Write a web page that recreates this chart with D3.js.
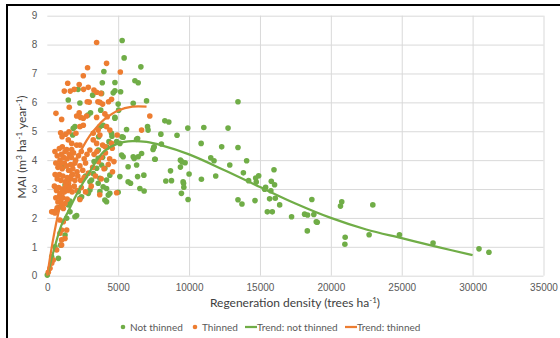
<!DOCTYPE html>
<html>
<head>
<meta charset="utf-8">
<script src="https://cdn.jsdelivr.net/npm/d3@7"></script>
<style>
  body { margin: 0; background: #fff; }
  svg { display: block; font-family: Lato, "Open Sans", sans-serif; }
  .grid line { stroke: #d9d9d9; stroke-width: 1; }
  .tick-label { fill: #595959; font-size: 10px; }
</style>
</head>
<body>
<svg id="chart" width="560" height="338"></svg>
<script>
// values: [trees per ha, MAI]
var notThinned = [
  [0,0.02],[310,0.66],[780,0.6],[540,1.0],[940,1.06],[1250,1.41],[1370,1.99],[1950,2.04],[2070,2.08],[1600,2.21],
  [780,2.35],[1480,2.45],[1600,2.58],[2300,2.68],[2420,2.73],[1130,3.77],[1250,3.14],[2180,2.91],[2890,2.85],
  [1830,5.1],[1790,4.87],[1480,6.08],[2170,6.45],[1950,5.16],[2300,5.98],[3200,6.25],[3830,6.31],[3990,7.07],
  [3880,6.68],[3770,5.73],[3050,5.64],[2870,5.56],[3620,4.81],[4350,4.64],[4560,4.83],[3710,5.16],[3940,5.21],
  [4770,5.45],[4530,4.93],[3590,4.06],[3830,3.83],[4060,3.72],[3480,3.72],[3240,3.54],[4410,3.48],[3710,3.37],
  [4180,3.31],[3120,3.31],[3010,3.25],[3940,3.08],[4180,3.02],[3010,2.97],[4410,2.85],[4300,2.79],[4060,2.62],
  [4180,2.56],[3710,2.91],[3590,3.2],[3600,4.35],[3900,4.1],[4200,4.45],[3300,3.95],[2700,3.45],
  [5280,8.14],[5420,7.54],[6600,7.23],[6180,6.75],[6410,6.68],[4770,6.69],[4650,6.33],[4770,6.4],[5170,6.37],
  [7000,6.05],[6060,5.97],[5000,5.94],[5030,5.73],[4770,5.48],[5590,5.06],[7070,5.16],[7110,5.04],[5260,4.81],
  [5350,4.79],[6300,4.72],[7540,4.46],[4890,4.64],[5120,4.58],[6370,4.75],[5240,4.18],[5350,4.12],[6060,4.12],
  [5700,3.77],[6300,3.83],[5700,3.25],[5870,3.2],[5120,3.43],[5000,2.89],[6130,4.06],[6410,4.12],[6650,4.23],
  [7580,4.03],[6370,3.43],[6810,3.48],[6530,3.02],[6830,2.93],
  [8760,3.29],[8360,3.28],[9460,2.85],[9930,2.64],[9580,3.25],[10000,3.52],[13450,6.02],[8290,5.36],[8570,5.32],
  [8010,4.9],[9150,4.86],[9910,5.11],[11040,5.13],[12750,5.11],[7460,4.37],[7510,4.44],[8050,4.56],[10850,4.58],
  [12300,4.46],[13450,4.44],[7610,4.03],[9390,4.0],[9510,3.94],[9720,3.91],[11530,4.08],[11760,3.98],[14060,3.98],
  [12870,3.83],[9390,3.76],[8690,3.63],[11880,3.45],[13830,3.56],[15990,3.67],[10870,3.34],[9610,3.2],[9630,3.06],
  [14200,3.29],[14700,3.38],[14740,3.24],[14910,3.46],[15800,3.27],[16030,3.15],[15400,3.06],[15330,2.99],
  [15770,2.94],[15680,2.66],[16080,2.68],[13450,2.63],[13730,2.48],[14650,2.6],[16390,2.45],[15520,2.21],
  [15870,2.21],[17230,2.04],[18150,2.13],[18360,2.1],[18800,2.12],[18660,2.64],[18970,1.87],[19040,1.85],
  [18340,1.55],[20770,2.56],[20680,2.41],[21010,1.33],[20990,1.09],[22960,2.45],[22700,1.42],[24840,1.42],
  [27210,1.13],[30450,0.93],[31150,0.81]
];

var thinned = [
  [3480,8.07],[4180,7.35],[2840,7.2],[2540,6.92],[1440,6.66],[1200,6.39],[1620,6.39],[5150,7.05],[2250,6.62],
  [2560,6.45],[2890,6.52],[3290,6.43],[3480,6.35],[3780,6.31],[1900,6.45],[3570,6.02],[3710,6.0],[2960,6.01],
  [2820,6.02],[4530,6.11],[4320,6.02],[3900,5.94],[1550,5.83],[2250,5.64],[2070,5.53],[2350,5.48],[610,5.62],
  [1010,5.41],[2540,5.45],[2770,5.53],[3480,5.48],[4060,5.6],[4230,5.5],[7230,5.53],[2300,5.16],[2540,5.21],
  [4180,5.16],[4410,5.04],[940,4.95],[1300,4.9],[1530,4.98],[2020,4.93],[3240,4.93],[3590,5.04],[3710,4.87],
  [4930,4.87],[6650,5.04],[1040,4.81],[1480,4.7],[1720,4.58],[2070,4.52],[2300,4.52],[1060,4.46],[1370,4.37],
  [1720,4.37],[3240,4.7],[3480,4.58],[3900,4.52],[4080,4.46],[4530,4.58],[4580,4.41],
  [540,4.3],[700,4.15],[850,4.4],[900,4.0],[1000,4.2],[1150,4.1],[1250,4.3],[1400,4.05],[1550,4.2],[1700,4.1],
  [1850,4.25],[2000,4.0],[2200,4.15],[2400,4.3],[2600,4.05],[2800,4.2],[3000,4.35],[3300,4.2],[3500,4.3],
  [3800,4.1],[4100,4.25],[4400,4.05],[4700,3.95],[600,3.9],[750,3.75],[900,3.85],[1050,3.7],[1200,3.9],
  [1350,3.8],[1500,3.65],[1650,3.85],[1800,3.7],[1950,3.9],[2100,3.6],[2300,3.8],[2500,3.65],[2700,3.9],
  [3200,3.75],[3600,3.95],[4000,3.7],[4300,3.85],[4600,3.6],[550,3.5],[700,3.35],[850,3.5],[950,3.3],
  [1100,3.45],[1250,3.25],[1400,3.4],[1500,3.2],[1650,3.35],[1800,3.5],[1950,3.3],[2150,3.45],[2350,3.3],
  [2600,3.4],[2900,3.55],[3400,3.45],[3800,3.35],[500,3.1],[650,2.95],[800,3.05],[900,2.85],[1050,3.0],
  [1200,2.9],[1300,3.1],[1450,2.95],[1600,3.05],[1750,2.9],[1900,3.1],[2100,2.95],[2400,3.05],[2700,2.9],
  [3100,3.1],[3700,2.8],[4890,2.87],[2300,2.64],[600,2.7],[750,2.55],[850,2.75],[950,2.6],[1100,2.7],
  [1250,2.5],[1400,2.65],[1000,2.45],[700,2.35],[420,2.21],[660,2.27],[1130,2.33],[310,2.21],[540,2.17],
  [890,1.93],[1130,1.87],[1010,1.58],[1370,1.58],[890,1.47],[1250,1.29],[1010,1.24],[1010,1.06],[660,0.89],
  [420,0.54],[310,0.43],[190,0.26],[70,0.12]
];

var trendNotThinned = [
  [0,0],[500,0.95],[1000,1.75],[1500,2.25],[2000,2.75],[2500,3.2],[3000,3.6],[3500,4.0],[4000,4.3],[5000,4.58],
  [6000,4.66],[7000,4.63],[8000,4.52],[10000,4.2],[12500,3.65],[15000,3.07],[17500,2.5],[20000,2.0],
  [22500,1.6],[25000,1.3],[27500,1.0],[30000,0.71]
];
var trendThinned = [
  [0,0],[250,0.8],[500,1.5],[750,2.1],[1000,2.6],[1500,3.35],[2000,3.95],[2500,4.45],[3000,4.85],[3500,5.15],
  [4000,5.4],[5000,5.72],[6000,5.85],[7000,5.85]
];

var xTicks = [0, 5000, 10000, 15000, 20000, 25000, 30000, 35000];
var yTicks = [0, 1, 2, 3, 4, 5, 6, 7, 8, 9];

var green = "#70ad47", orange = "#ed7d31";

var svg = d3.select("#chart"),
    margin = {top: 15.7, left: 47.3, bottom: 62.3, right: 16.5},
    width = +svg.attr("width") - margin.left - margin.right,
    height = +svg.attr("height") - margin.top - margin.bottom;

var x = d3.scaleLinear().domain([0, 35000]).range([margin.left, margin.left + width]);
var y = d3.scaleLinear().domain([0, 9]).range([margin.top + height, margin.top]);

// frame (the picture is cropped, only top and left edges show)
svg.append("line").attr("x1", 6).attr("x2", 560).attr("y1", 5).attr("y2", 5)
    .attr("stroke", "#000").attr("stroke-width", 2);
svg.append("line").attr("x1", 7).attr("x2", 7).attr("y1", 4).attr("y2", 338)
    .attr("stroke", "#000").attr("stroke-width", 2);

// gridlines
var yAxis = svg.append("g")
    .attr("class", "grid")
    .attr("transform", `translate(${margin.left},0)`)
    .call(d3.axisLeft(y).tickValues(yTicks).tickSize(-width).tickPadding(10).tickFormat(d3.format("d")));
yAxis.select(".domain").remove();
yAxis.selectAll("text").attr("class", "tick-label").attr("x", -10);

var xAxis = svg.append("g")
    .attr("class", "grid")
    .attr("transform", `translate(0,${margin.top + height})`)
    .call(d3.axisBottom(x).tickValues(xTicks).tickSize(-height).tickPadding(8).tickFormat(d3.format("d")));
xAxis.select(".domain").remove();
xAxis.selectAll(".tick").filter(d => d === 0).select("line").remove();
xAxis.selectAll("text").attr("class", "tick-label");

// points
svg.append("g").selectAll("circle")
    .data(notThinned)
  .enter().append("circle")
    .attr("cx", d => x(d[0]))
    .attr("cy", d => y(d[1]))
    .attr("r", 2.8)
    .attr("fill", green);

svg.append("g").selectAll("circle")
    .data(thinned)
  .enter().append("circle")
    .attr("cx", d => x(d[0]))
    .attr("cy", d => y(d[1]))
    .attr("r", 2.8)
    .attr("fill", orange);

// trend lines
var line = d3.line()
    .x(d => x(d[0]))
    .y(d => y(d[1]))
    .curve(d3.curveCatmullRom);

svg.append("path").datum(trendNotThinned)
    .attr("d", line).attr("fill", "none").attr("stroke", green).attr("stroke-width", 2.25);
svg.append("path").datum(trendThinned)
    .attr("d", line).attr("fill", "none").attr("stroke", orange).attr("stroke-width", 2.25);

// axis titles
svg.append("text")
    .attr("x", 295).attr("y", 307)
    .attr("text-anchor", "middle")
    .attr("fill", "#404040").style("font-size", "12px")
    .html('Regeneration density (trees ha<tspan dy="-4" font-size="8px">-1</tspan><tspan dy="4">)</tspan>');

svg.append("text")
    .attr("transform", "translate(26,147) rotate(-90)")
    .attr("text-anchor", "middle")
    .attr("fill", "#404040").style("font-size", "12px")
    .html('MAI (m<tspan dy="-4" font-size="8px">3</tspan><tspan dy="4"> ha</tspan><tspan dy="-4" font-size="8px">-1</tspan><tspan dy="4"> year</tspan><tspan dy="-4" font-size="8px">-1</tspan><tspan dy="4">)</tspan>');

// legend
var legendItems = [
  {label: "Not thinned", color: green, type: "dot", x: 123},
  {label: "Thinned", color: orange, type: "dot", x: 195},
  {label: "Trend: not thinned", color: green, type: "line", x: 245},
  {label: "Trend: thinned", color: orange, type: "line", x: 345}
];
var legend = svg.append("g").selectAll("g")
    .data(legendItems)
  .enter().append("g")
    .attr("transform", d => `translate(${d.x},327)`);
legend.filter(d => d.type === "dot").append("circle")
    .attr("r", 2.3).attr("fill", d => d.color);
legend.filter(d => d.type === "line").append("line")
    .attr("x1", 0).attr("x2", 12).attr("stroke", d => d.color).attr("stroke-width", 2.25);
legend.append("text")
    .attr("x", d => d.type === "dot" ? 7 : 12)
    .attr("y", 3.5)
    .attr("class", "tick-label")
    .text(d => d.label);
</script>
</body>
</html>
